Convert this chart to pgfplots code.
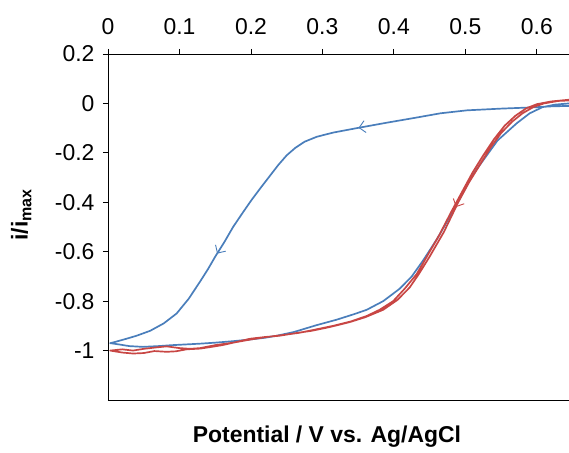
\documentclass[border=0pt]{standalone}
\usepackage{fontspec}
\setmainfont{Liberation Sans}
\usepackage{pgfplots}
\pgfplotsset{compat=1.18}
\usetikzlibrary{decorations.markings, arrows.meta}
\definecolor{cvblue}{RGB}{74,126,187}
\definecolor{cvred}{RGB}{200,70,68}
\begin{document}
\begin{tikzpicture}
\begin{axis}[
  scale only axis, width=461bp, height=346bp,
  xmin=0, xmax=0.645, ymin=-1.2, ymax=0.2,
  axis x line*=top, axis y line*=left,
  xtick={0,0.1,0.2,0.3,0.4,0.5,0.6},
  ytick={-1,-0.8,-0.6,-0.4,-0.2,0,0.2},
  tick align=outside, major tick length=5bp,
  tick style={black, line width=0.8pt},
  axis line style={black, line width=0.8pt},
  /pgf/number format/assume math mode=true,
  /pgf/number format/fixed,
  ticklabel style={font=\fontsize{23}{27}\selectfont},
  xticklabel style={yshift=11bp},
  yticklabel style={xshift=-5bp},
  xlabel={Potential / V vs. Ag/AgCl},
  xlabel style={at={(axis description cs:0.475,-0.107)}, anchor=center, font=\bfseries\fontsize{23}{27}\selectfont},
  ylabel={i/i\textsubscript{max}},
  ylabel style={at={(axis description cs:-0.188,0.535)}, anchor=center, rotate=0, font=\bfseries\fontsize{23}{27}\selectfont},
  clip=true,
]
\draw[black, line width=0.8pt] (rel axis cs:0,0) -- (rel axis cs:1,0);
\coordinate (sw) at (rel axis cs:0,0);
\coordinate (ne) at (rel axis cs:1,1);

% blue: first cycle
\addplot[cvblue, line width=1.7pt, line join=round, postaction={decorate}, decoration={markings,
  mark=at position 212bp with {\arrow{Straight Barb[length=6bp,width=12bp,line width=0.9pt]}},
  mark=at position 411bp with {\arrow{Straight Barb[length=6bp,width=12bp,line width=0.9pt]}}}]
coordinates {
(0.645,-0.010)(0.62,-0.012)(0.594,-0.016)(0.55,-0.021)(0.502,-0.028)(0.465,-0.040)
(0.432,-0.057)(0.39,-0.078)(0.348,-0.100)(0.315,-0.118)(0.292,-0.135)(0.275,-0.155)
(0.262,-0.18)(0.25,-0.21)(0.238,-0.25)(0.226,-0.295)(0.214,-0.34)(0.201,-0.39)
(0.189,-0.44)(0.175,-0.50)(0.163,-0.56)(0.150,-0.62)(0.140,-0.67)(0.129,-0.72)
(0.113,-0.79)(0.096,-0.85)(0.078,-0.89)(0.059,-0.92)(0.040,-0.94)(0.026,-0.952)
(0.010,-0.965)(0.003,-0.970)
(0.015,-0.975)(0.030,-0.982)(0.049,-0.985)(0.07,-0.982)(0.09,-0.978)(0.11,-0.975)
(0.129,-0.972)(0.15,-0.968)(0.175,-0.962)(0.199,-0.955)(0.22,-0.948)(0.236,-0.94)
(0.26,-0.925)(0.292,-0.897)(0.32,-0.875)(0.345,-0.852)(0.362,-0.835)(0.385,-0.80)
(0.408,-0.75)(0.425,-0.70)(0.441,-0.635)(0.46,-0.55)(0.478,-0.46)(0.495,-0.37)
(0.51,-0.29)(0.525,-0.23)(0.545,-0.15)(0.572,-0.08)(0.59,-0.04)(0.608,-0.015)
(0.625,-0.005)(0.645,0.0)
};

% red: later cycles
\addplot[cvred, line width=1.7pt, line join=round, postaction={decorate}, decoration={markings,
  mark=at position 165bp with {\arrow{Straight Barb[length=6bp,width=12bp,line width=0.9pt]}}}]
coordinates {
(0.645,0.012)(0.63,0.010)(0.61,0.0)(0.595,-0.015)(0.58,-0.04)(0.565,-0.075)
(0.55,-0.12)(0.535,-0.18)(0.52,-0.25)(0.505,-0.32)(0.49,-0.40)(0.47,-0.52)
(0.45,-0.62)(0.435,-0.69)(0.422,-0.745)(0.405,-0.795)(0.385,-0.835)(0.36,-0.865)
(0.338,-0.885)(0.31,-0.905)(0.285,-0.92)(0.268,-0.927)(0.24,-0.94)(0.22,-0.945)
(0.199,-0.952)(0.18,-0.965)(0.16,-0.978)(0.145,-0.985)(0.129,-0.992)(0.11,-0.995)
(0.095,-1.003)(0.082,-1.005)(0.065,-1.002)(0.05,-1.01)(0.035,-1.012)(0.02,-1.008)
(0.003,-1.0)
(0.02,-0.995)(0.035,-1.0)(0.05,-0.993)(0.065,-0.988)(0.082,-0.983)(0.1,-0.99)
(0.115,-0.993)(0.129,-0.99)(0.15,-0.978)(0.175,-0.968)(0.2,-0.955)(0.222,-0.945)
(0.245,-0.937)(0.268,-0.928)(0.29,-0.915)(0.315,-0.90)(0.34,-0.882)(0.362,-0.86)
(0.38,-0.835)(0.399,-0.80)(0.415,-0.75)(0.432,-0.69)(0.448,-0.61)(0.464,-0.53)
(0.48,-0.44)(0.495,-0.36)(0.51,-0.28)(0.525,-0.21)(0.54,-0.145)(0.555,-0.09)
(0.57,-0.05)(0.585,-0.02)(0.60,-0.003)(0.62,0.008)(0.645,0.015)
};
\end{axis}
\pgfresetboundingbox
\path ([shift={(-108bp,-53bp)}]sw) rectangle ([shift={(0bp,54bp)}]ne);
\end{tikzpicture}
\end{document}
